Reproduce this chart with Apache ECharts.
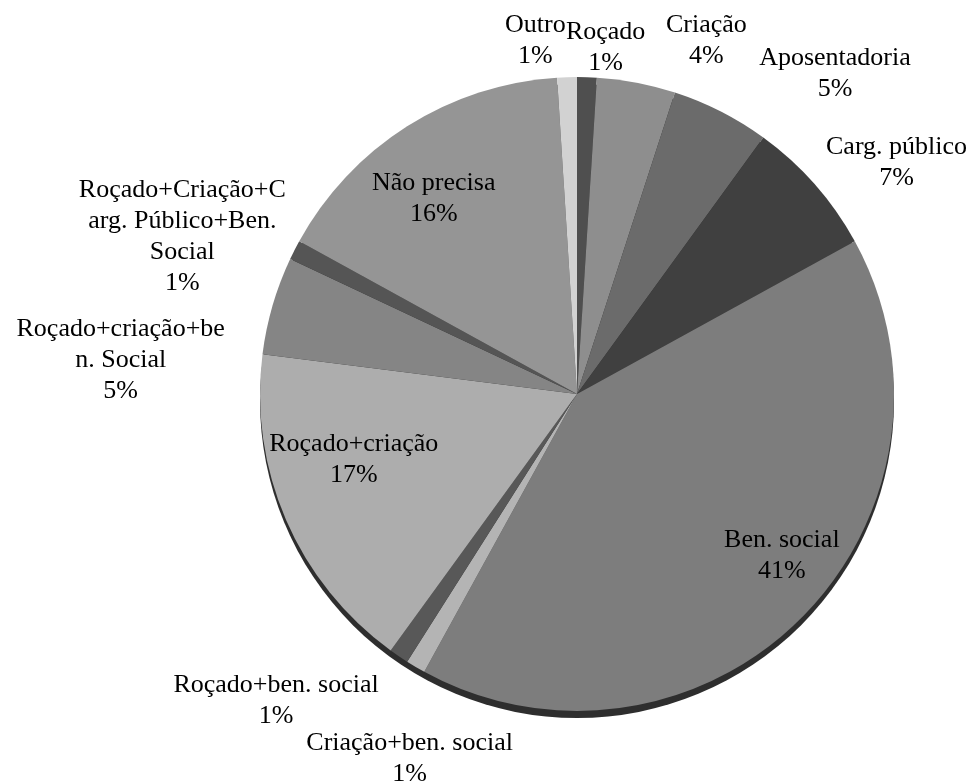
<!DOCTYPE html>
<html>
<head>
<meta charset="utf-8">
<script src="https://cdn.jsdelivr.net/npm/echarts@6/dist/echarts.min.js"></script>
<style>
html, body { margin: 0; padding: 0; background: #fff; }
#main { width: 976px; height: 781px; }
</style>
</head>
<body>
<div id="main"></div>
<script>
// fatias no sentido horário a partir do topo
var categories = ['Roçado', 'Criação', 'Aposentadoria', 'Carg. público', 'Ben. social',
  'Criação+ben. social', 'Roçado+ben. social', 'Roçado+criação', 'Roçado+criação+ben. Social',
  'Roçado+Criação+Carg. Público+Ben. Social', 'Não precisa', 'Outro']
// texto dos rótulos, com as quebras do original
var labelNames = ['Roçado', 'Criação', 'Aposentadoria', 'Carg. público', 'Ben. social',
  'Criação+ben. social', 'Roçado+ben. social', 'Roçado+criação', 'Roçado+criação+be\nn. Social',
  'Roçado+Criação+C\narg. Público+Ben.\nSocial', 'Não precisa', 'Outro']
var percents = [1, 4, 5, 7, 41, 1, 1, 17, 5, 1, 16, 1]
var colors = ['#4f4f4f', '#8e8e8e', '#6b6b6b', '#404040', '#7d7d7d', '#b4b4b4',
  '#585858', '#adadad', '#858585', '#555555', '#959595', '#d2d2d2']
// rótulo dentro da fatia ou fora
var insideLabel = [false, false, false, false, true, false, false, true, false, false, true, false]
// ajuste fino dos rótulos (px)
var labelShift = [[17, 23], [60, 10], [90, 9], [42, 13], [29, -14], [21, 46], [-93, 1],
  [5, -33], [-101, 69], [-65, 11], [-10, 15], [-30, 16]]

var cx = 577, cy = 394, R = 317

var myChart = echarts.init(document.getElementById('main'))

var sliceData = categories.map(function (name, i) {
  return { name: name, value: percents[i], itemStyle: { color: colors[i] } }
})

function labelData(inside) {
  return categories.map(function (name, i) {
    return {
      name: name,
      value: percents[i],
      label: { show: insideLabel[i] === inside }
    }
  })
}

var labelStyle = {
  position: 'inside',
  fontFamily: 'Liberation Serif',
  fontSize: 26,
  lineHeight: 31,
  color: '#000',
  formatter: function (p) {
    return labelNames[p.dataIndex] + '\n' + p.value + '%'
  }
}

function shift(params) {
  var s = labelShift[params.dataIndex]
  return { dx: s[0], dy: s[1] }
}

var option = {
  animation: false,
  backgroundColor: '#fff',
  series: [
    {
      // borda escura embaixo (efeito 3D)
      type: 'pie',
      silent: true,
      center: [cx, cy + 7],
      radius: R,
      label: { show: false },
      labelLine: { show: false },
      data: [{ value: 1, itemStyle: { color: '#2e2e2e' } }]
    },
    {
      type: 'pie',
      silent: true,
      center: [cx, cy],
      radius: R,
      startAngle: 90,
      clockwise: true,
      label: { show: false },
      labelLine: { show: false },
      itemStyle: { borderWidth: 0 },
      data: sliceData
    },
    {
      // rótulos internos
      type: 'pie',
      silent: true,
      center: [cx, cy],
      radius: [R * 0.55, R],
      startAngle: 90,
      avoidLabelOverlap: false,
      itemStyle: { color: 'rgba(0,0,0,0)' },
      label: labelStyle,
      labelLine: { show: false },
      labelLayout: shift,
      data: labelData(true)
    },
    {
      // rótulos externos
      type: 'pie',
      silent: true,
      center: [cx, cy],
      radius: [R, R + 100],
      startAngle: 90,
      avoidLabelOverlap: false,
      itemStyle: { color: 'rgba(0,0,0,0)' },
      label: labelStyle,
      labelLine: { show: false },
      labelLayout: shift,
      data: labelData(false)
    }
  ]
}

myChart.setOption(option)
</script>
</body>
</html>
